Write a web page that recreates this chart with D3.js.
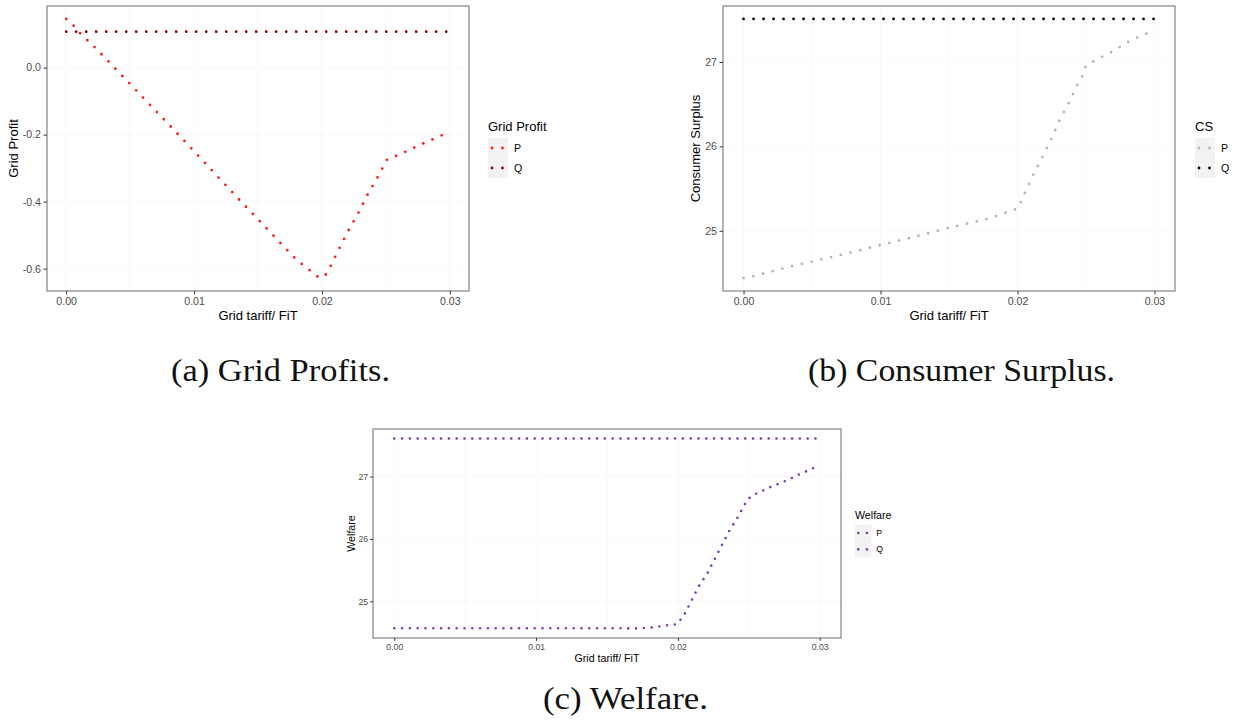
<!DOCTYPE html>
<html>
<head>
<meta charset="utf-8">
<script src="https://cdn.jsdelivr.net/npm/d3@7"></script>
<style>
  body { margin: 0; background: #fff; }
  svg { display: block; }
  .tick text { fill: #4d4d4d; }
</style>
</head>
<body>
<div id="chart"></div>
<script>
// ---- data ----
// (a) grid profit
var profitX_P = [0, 0.0006, 0.0011, 0.0023, 0.005, 0.0093, 0.0136, 0.018, 0.0198, 0.0203, 0.0207, 0.0214, 0.0221, 0.0229, 0.0236, 0.0244, 0.0251, 0.0259, 0.0266, 0.028, 0.0295];
var profitY_P = [0.145, 0.124, 0.102, 0.058, -0.049, -0.221, -0.397, -0.573, -0.628, -0.618, -0.591, -0.536, -0.484, -0.430, -0.377, -0.324, -0.274, -0.262, -0.250, -0.225, -0.200];
var profitX_Q = [0, 0.03];
var profitY_Q = [0.107, 0.107];

// (b) consumer surplus
var csX_P = [0, 0.0008, 0.0029, 0.005, 0.0072, 0.01, 0.0122, 0.015, 0.0179, 0.02, 0.0203, 0.0206, 0.0212, 0.0219, 0.0225, 0.0231, 0.0238, 0.0244, 0.0248, 0.025, 0.0257, 0.027, 0.0282, 0.0296];
var csY_P = [24.44, 24.465, 24.555, 24.637, 24.717, 24.831, 24.917, 25.035, 25.145, 25.263, 25.362, 25.469, 25.681, 25.898, 26.10, 26.32, 26.53, 26.74, 26.85, 26.96, 27.02, 27.13, 27.25, 27.35];
var csX_Q = [0, 0.03];
var csY_Q = [27.51, 27.51];

// (c) welfare
var welX_P = [0, 0.01, 0.0158, 0.0169, 0.0182, 0.0188, 0.0194, 0.0199, 0.0202, 0.0205, 0.021, 0.0215, 0.0221, 0.0226, 0.0231, 0.0236, 0.0242, 0.0247, 0.025, 0.0254, 0.0265, 0.0276, 0.0286, 0.03];
var welY_P = [24.57, 24.57, 24.57, 24.565, 24.58, 24.60, 24.625, 24.63, 24.71, 24.81, 25.03, 25.25, 25.46, 25.68, 25.90, 26.12, 26.34, 26.55, 26.65, 26.71, 26.83, 26.93, 27.04, 27.18];
var welX_Q = [0, 0.03];
var welY_Q = [27.61, 27.61];

var xTicks = [0, 0.01, 0.02, 0.03];
var xTickLabels = ["0.00", "0.01", "0.02", "0.03"];
var profitTicks = [0, -0.2, -0.4, -0.6];
var profitTickLabels = ["0.0", "-0.2", "-0.4", "-0.6"];
var surplusTicks = [25, 26, 27];
var surplusTickLabels = ["25", "26", "27"];
var seriesNames = ["P", "Q"];

var captions = ["(a) Grid Profits.", "(b) Consumer Surplus.", "(c) Welfare."];

var W = 1240, H = 726;
var svg = d3.select("#chart").append("svg")
    .attr("width", W)
    .attr("height", H);

function zip(xs, ys) {
    return xs.map(function(x, i) { return {x: x, y: ys[i]}; });
}

// expand a domain by 5% like ggplot does
function expand(lo, hi) {
    var pad = (hi - lo) * 0.05;
    return [lo - pad, hi + pad];
}

function drawPanel(cfg) {
    var s = cfg.scale;  // font scale for the smaller panel
    var g = svg.append("g");
    var allY = [];
    cfg.series.forEach(function(sr) { allY = allY.concat(sr.ys); });
    var x = d3.scaleLinear()
        .domain(expand(0, 0.03))
        .range([cfg.left, cfg.right]);
    var y = d3.scaleLinear()
        .domain(expand(d3.min(allY), d3.max(allY)))
        .range([cfg.bottom, cfg.top]);

    // very faint grid
    var minorX = [0.005, 0.015, 0.025];
    g.selectAll(".gx").data(xTicks.concat(minorX)).enter().append("line")
        .attr("x1", function(d) { return x(d); })
        .attr("x2", function(d) { return x(d); })
        .attr("y1", cfg.top).attr("y2", cfg.bottom)
        .attr("stroke", "#f8f8f8").attr("stroke-width", 0.8);
    g.selectAll(".gy").data(cfg.yTicks).enter().append("line")
        .attr("y1", function(d) { return y(d); })
        .attr("y2", function(d) { return y(d); })
        .attr("x1", cfg.left).attr("x2", cfg.right)
        .attr("stroke", "#f8f8f8").attr("stroke-width", 0.8);

    var line = d3.line()
        .x(function(d) { return x(d.x); })
        .y(function(d) { return y(d.y); });

    cfg.series.forEach(function(sr) {
        g.append("path")
            .datum(zip(sr.xs, sr.ys))
            .attr("d", line)
            .attr("fill", "none")
            .attr("stroke", sr.color)
            .attr("stroke-width", cfg.dot)
            .attr("stroke-linecap", "round")
            .attr("stroke-dasharray", "0 " + cfg.gap);
    });

    // border
    g.append("rect")
        .attr("x", cfg.left).attr("y", cfg.top)
        .attr("width", cfg.right - cfg.left)
        .attr("height", cfg.bottom - cfg.top)
        .attr("fill", "none")
        .attr("stroke", "#8c8c8c")
        .attr("stroke-width", 1.3);

    var xAxis = d3.axisBottom(x)
        .tickValues(xTicks)
        .tickFormat(function(d, i) { return xTickLabels[i]; })
        .tickSize(3.5 * s).tickPadding(3 * s);
    var gx = g.append("g")
        .attr("transform", "translate(0," + cfg.bottom + ")")
        .call(xAxis);
    var yAxis = d3.axisLeft(y)
        .tickValues(cfg.yTicks)
        .tickFormat(function(d, i) { return cfg.yLabels[i]; })
        .tickSize(3.5 * s).tickPadding(2.5 * s);
    var gy = g.append("g")
        .attr("transform", "translate(" + cfg.left + ",0)")
        .call(yAxis);
    [gx, gy].forEach(function(a) {
        a.select(".domain").remove();
        a.selectAll(".tick line").attr("stroke", "#333").attr("stroke-width", 1);
        a.selectAll(".tick text")
            .attr("font-family", "Liberation Sans, Arial, sans-serif")
            .attr("font-size", 10.6 * s);
    });

    // axis titles
    g.append("text")
        .attr("x", (cfg.left + cfg.right) / 2)
        .attr("y", cfg.bottom + 29 * s)
        .attr("text-anchor", "middle")
        .attr("font-family", "Liberation Sans, Arial, sans-serif")
        .attr("font-size", 13 * s)
        .text("Grid tariff/ FiT");
    g.append("text")
        .attr("transform", "translate(" + cfg.yTitleX + "," + ((cfg.top + cfg.bottom) / 2) + ") rotate(-90)")
        .attr("text-anchor", "middle")
        .attr("font-family", "Liberation Sans, Arial, sans-serif")
        .attr("font-size", 13 * s)
        .text(cfg.yTitle);

    // legend
    var lg = g.append("g").attr("transform", "translate(" + cfg.legX + "," + cfg.legY + ")");
    lg.append("text")
        .attr("x", 0).attr("y", 0)
        .attr("font-family", "Liberation Sans, Arial, sans-serif")
        .attr("font-size", 13 * s)
        .text(cfg.legTitle);
    var key = 20 * s;
    cfg.series.forEach(function(sr, i) {
        var ky = 7 * s + i * key;
        lg.append("rect")
            .attr("x", 0).attr("y", ky)
            .attr("width", key).attr("height", key)
            .attr("fill", "#f2f2f2");
        lg.append("line")
            .attr("x1", 4 * s).attr("x2", 16 * s)
            .attr("y1", ky + key / 2).attr("y2", ky + key / 2)
            .attr("stroke", sr.color)
            .attr("stroke-width", cfg.dot)
            .attr("stroke-linecap", "round")
            .attr("stroke-dasharray", "0 " + (10.5 * s));
        lg.append("text")
            .attr("x", key + 6 * s)
            .attr("y", ky + key / 2 + 3.8 * s)
            .attr("font-family", "Liberation Sans, Arial, sans-serif")
            .attr("font-size", 10.6 * s)
            .text(seriesNames[i]);
    });
}

drawPanel({
    left: 47, right: 469, top: 6, bottom: 291, scale: 1, dot: 2.8, gap: 10,
    yTicks: profitTicks, yLabels: profitTickLabels,
    yTitle: "Grid Profit", yTitleX: 18,
    legTitle: "Grid Profit", legX: 488, legY: 131,
    series: [
        {xs: profitX_P, ys: profitY_P, color: "#ff1a1a"},
        {xs: profitX_Q, ys: profitY_Q, color: "#8b0000"}
    ]
});

drawPanel({
    left: 723, right: 1175, top: 6, bottom: 291, scale: 1, dot: 2.8, gap: 10,
    yTicks: surplusTicks, yLabels: surplusTickLabels,
    yTitle: "Consumer Surplus", yTitleX: 700,
    legTitle: "CS", legX: 1195, legY: 131,
    series: [
        {xs: csX_P, ys: csY_P, color: "#b5b5b5"},
        {xs: csX_Q, ys: csY_Q, color: "#000000"}
    ]
});

drawPanel({
    left: 373, right: 841, top: 429, bottom: 638, scale: 0.82, dot: 2.6, gap: 7.8,
    yTicks: surplusTicks, yLabels: surplusTickLabels,
    yTitle: "Welfare", yTitleX: 355,
    legTitle: "Welfare", legX: 855, legY: 519,
    series: [
        {xs: welX_P, ys: welY_P, color: "#7a3cae"},
        {xs: welX_Q, ys: welY_Q, color: "#6e3aa3"}
    ]
});

// captions
var capPos = [[280.5, 381, 219], [961.5, 381, 307], [625.5, 709, 165]];
svg.selectAll(".caption").data(captions).enter().append("text")
    .attr("class", "caption")
    .attr("x", function(d, i) { return capPos[i][0]; })
    .attr("y", function(d, i) { return capPos[i][1]; })
    .attr("text-anchor", "middle")
    .attr("font-family", "Liberation Serif, DejaVu Serif, serif")
    .attr("font-size", 31)
    .attr("textLength", function(d, i) { return capPos[i][2]; })
    .attr("lengthAdjust", "spacingAndGlyphs")
    .attr("fill", "#111")
    .text(function(d) { return d; });
</script>
</body>
</html>
